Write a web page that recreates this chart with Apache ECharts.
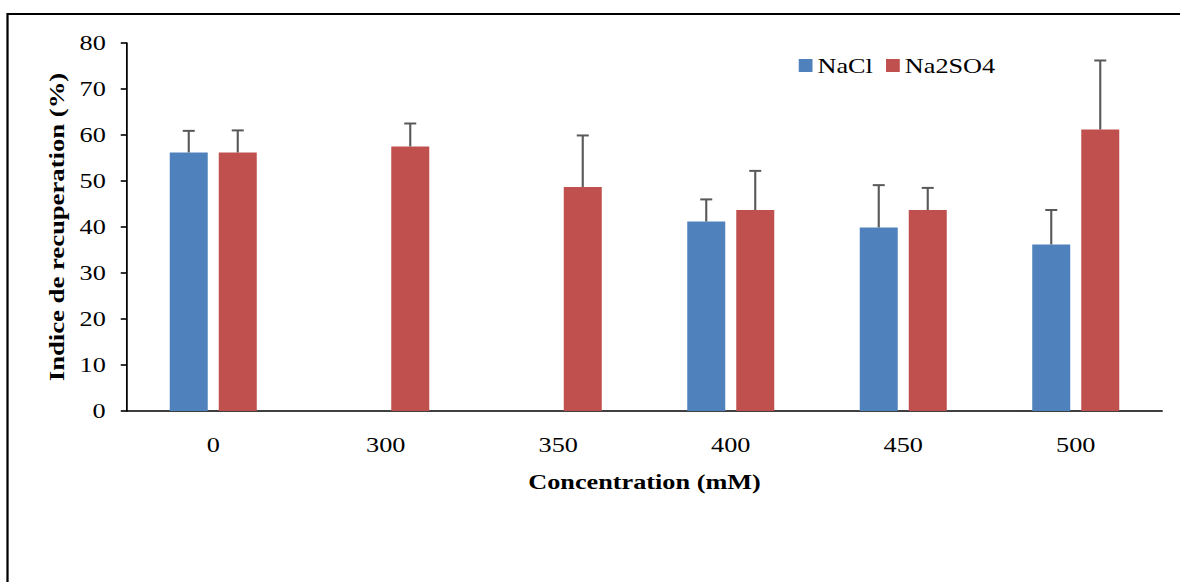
<!DOCTYPE html>
<html>
<head>
<meta charset="utf-8">
<script src="https://cdn.jsdelivr.net/npm/echarts@6/dist/echarts.min.js"></script>
<style>
  html, body { margin: 0; padding: 0; background: #fff; overflow: hidden; }
  /* the original figure's text is wide, so draw narrow and widen it */
  #chart { width: 944px; height: 582px; transform: scaleX(1.25); transform-origin: 0 0; }
</style>
</head>
<body>
<div id="chart"></div>
<script>
// concentrations (mM)
const categories = ['0', '300', '350', '400', '450', '500'];
// recovery index (%)
const naclValues = [56.2, 0, 0, 41.2, 39.9, 36.2];
const naclErrors = [4.7, 0, 0, 4.8, 9.2, 7.5];
const na2so4Values = [56.2, 57.5, 48.7, 43.7, 43.7, 61.2];
const na2so4Errors = [4.8, 5.0, 11.2, 8.5, 4.8, 15.0];
const yTicks = [0, 10, 20, 30, 40, 50, 60, 70, 80];

const chart = echarts.init(document.getElementById('chart'), null, { renderer: 'svg' });
const font = '"Liberation Serif", "Times New Roman", serif';

// error bar above each bar, offset = half of (bar width + gap)
function errorSeries(values, errors, offset) {
  return {
    type: 'custom',
    silent: true,
    z: 5,
    data: values.map((v, i) => [i, v, errors[i]]),
    renderItem: function (params, api) {
      const err = api.value(2);
      if (!err) return null;
      const base = api.coord([api.value(0), api.value(1)]);
      const top = api.coord([api.value(0), api.value(1) + err]);
      const x = base[0] + offset;
      return {
        type: 'group',
        children: [
          { type: 'line', shape: { x1: x, y1: base[1], x2: x, y2: top[1] }, style: { stroke: '#595959', lineWidth: 1.7 } },
          { type: 'line', shape: { x1: x - 4.8, y1: top[1], x2: x + 4.8, y2: top[1] }, style: { stroke: '#595959', lineWidth: 2 } }
        ]
      };
    }
  };
}

const option = {
  backgroundColor: '#fff',
  animation: false,
  graphic: [
    {
      type: 'rect',
      shape: { x: 6, y: 14, width: 1000, height: 600 },
      style: { fill: 'none', stroke: '#000', lineWidth: 1.8 },
      silent: true
    },
    {
      // y axis title: wide along its own baseline, like the other text
      type: 'text',
      x: 45.6,
      y: 227,
      rotation: Math.PI / 2,
      scaleX: 1.27,
      scaleY: 0.8,
      style: {
        text: 'Indice de recuperation (%)',
        font: 'bold 21px ' + font,
        fill: '#000',
        align: 'center',
        verticalAlign: 'middle'
      },
      silent: true
    }
  ],
  legend: {
    left: 634,
    top: 50,
    icon: 'rect',
    itemWidth: 11,
    itemHeight: 13,
    itemGap: 10.5,
    textStyle: { fontFamily: font, fontSize: 21, color: '#000', padding: [0, 0, 0, -1] },
    data: ['NaCl', 'Na2SO4']
  },
  grid: { left: 101.6, right: 14.4, top: 43, bottom: 171 },
  xAxis: {
    type: 'category',
    data: categories,
    name: 'Concentration (mM)',
    nameLocation: 'middle',
    nameGap: 60,
    nameTextStyle: { fontFamily: font, fontSize: 21, fontWeight: 'bold', color: '#000' },
    axisLine: { lineStyle: { color: '#000', width: 1.6 } },
    axisTick: { show: false },
    axisLabel: { fontFamily: font, fontSize: 21, color: '#000', margin: 23 }
  },
  yAxis: {
    type: 'value',
    min: yTicks[0],
    max: yTicks[yTicks.length - 1],
    interval: 10,
    axisLine: { show: true, lineStyle: { color: '#000', width: 1.4 } },
    axisTick: { show: true, length: 5, lineStyle: { color: '#000', width: 1.6 } },
    splitLine: { show: false },
    axisLabel: { fontFamily: font, fontSize: 21, color: '#000', margin: 17 }
  },
  series: [
    {
      name: 'NaCl',
      type: 'bar',
      data: naclValues,
      barWidth: 30.4,
      barGap: '29%',
      itemStyle: { color: '#4F81BD' }
    },
    {
      name: 'Na2SO4',
      type: 'bar',
      data: na2so4Values,
      barWidth: 30.4,
      barGap: '29%',
      itemStyle: { color: '#C0504D' }
    },
    errorSeries(naclValues, naclErrors, -19.6),
    errorSeries(na2so4Values, na2so4Errors, 19.6)
  ]
};
chart.setOption(option);
</script>
</body>
</html>
